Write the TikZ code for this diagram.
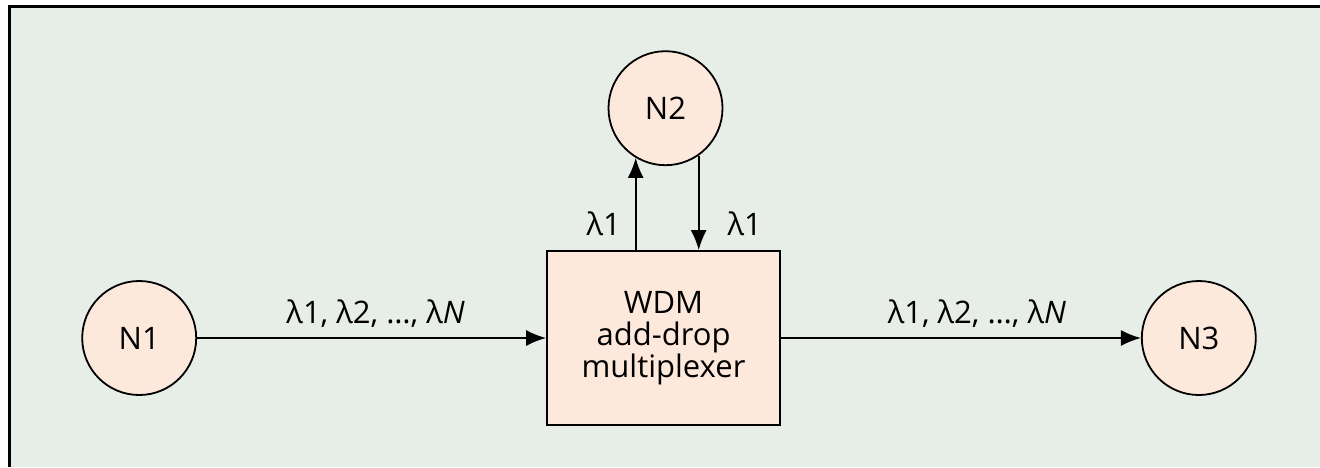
\documentclass[tikz,border=0pt]{standalone}
\usepackage{fontspec}
\setmainfont{Open Sans}
\usetikzlibrary{arrows.meta, positioning, calc}

\definecolor{panelbg}{HTML}{E7EDE7}
\definecolor{nodefill}{HTML}{FDE8DC}

\begin{document}
\begin{tikzpicture}[x=0.5pt, y=-0.5pt, font=\fontsize{15.5}{16}\selectfont,
          netnode/.style={circle, draw=black, fill=nodefill, line width=0.9pt, minimum size=57pt, inner sep=0pt},
          muxbox/.style={rectangle, draw=black, fill=nodefill, line width=0.9pt, minimum width=116.5pt, minimum height=87pt, align=center},
          arrow/.style={-{Latex[length=10pt, width=8pt]}, line width=0.9pt},
          wlabel/.style={inner sep=2pt}]
        % panel
        \useasboundingbox (0,0) rectangle (1320,467);
        \fill [panelbg] (9,6) rectangle (1320,467);
        \draw [line width=1.5pt] (1320,6) -- (9,6) -- (9,467);

        \node [muxbox] (mux) at (663.5,338) {WDM\\add-drop\\multiplexer};
        \node [netnode, left=174.5pt of mux] (n1) {N1};
        \node [netnode, right=180pt of mux] (n3) {N3};
        \node [netnode, above=42pt of mux, xshift=1pt] (n2) {N2};

        \draw [arrow] (n1) -- node [wlabel, above=3pt, xshift=2pt] {λ1, λ2, …, λ\textit{N}} (mux);
        \draw [arrow] (mux) -- node [wlabel, above=3pt, xshift=8pt] {λ1, λ2, …, λ\textit{N}} (n3);
        \draw [arrow] (n2.239 |- mux.north) -- node [wlabel, left=5pt, pos=0.28] {λ1} (n2.239);
        \draw [arrow] (n2.305) -- node [wlabel, right=12pt, pos=0.72] {λ1} (n2.305 |- mux.north);
      \end{tikzpicture}
\end{document}
